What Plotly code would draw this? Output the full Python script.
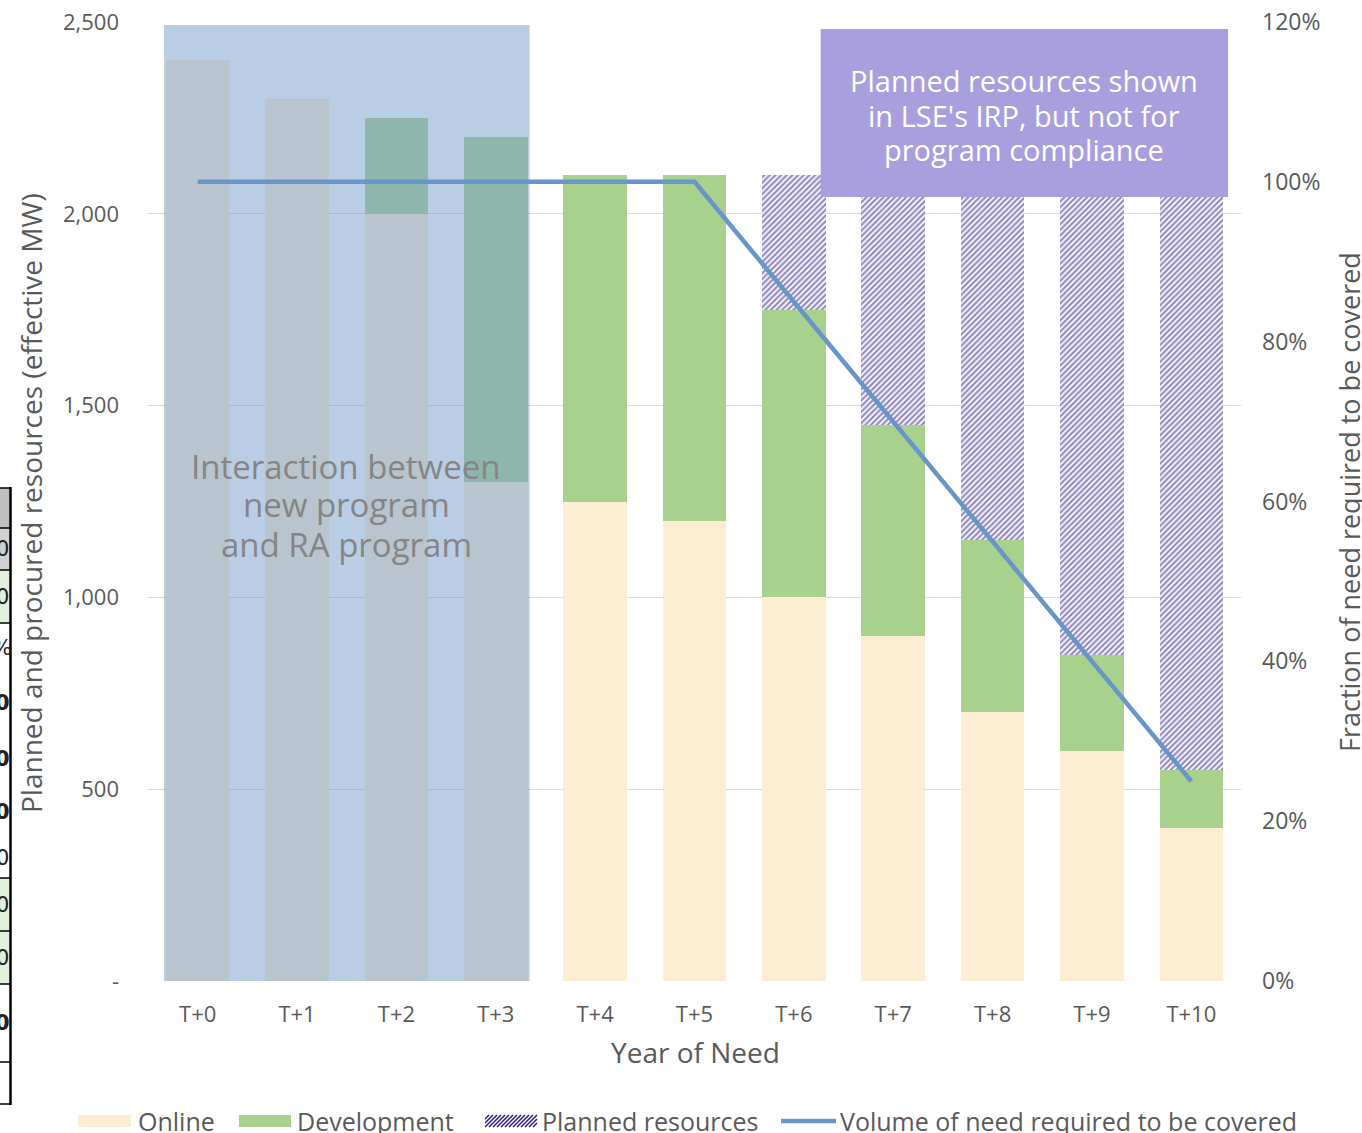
import plotly.graph_objects as go

# ---------------- data ----------------
categories = ["T+0", "T+1", "T+2", "T+3", "T+4", "T+5", "T+6", "T+7", "T+8", "T+9", "T+10"]
online = [2400, 2300, 2000, 1300, 1250, 1200, 1000, 900, 700, 600, 400]
development = [0, 0, 250, 900, 850, 900, 750, 550, 450, 250, 150]
planned = [0, 0, 0, 0, 0, 0, 350, 650, 950, 1250, 1550]
need_fraction = [1.0, 1.0, 1.0, 1.0, 1.0, 1.0, 0.85, 0.70, 0.55, 0.40, 0.25]

y_tickvals = [0, 500, 1000, 1500, 2000, 2500]
y_ticktext = ["-", "500", "1,000", "1,500", "2,000", "2,500"]
y2_tickvals = [0, 0.2, 0.4, 0.6, 0.8, 1.0, 1.2]

# ---------------- style ----------------
FONT = "Open Sans"
TXT = "#595959"
C_ONLINE = "#FDEDD2"
C_DEV = "#A9D18E"
C_HATCH = "#2A1585"
C_LINE = "#6896C8"
C_PURPLE = "#A99FDF"
BAR_W = 0.64

W, H = 1362, 1133
ML, MR, MT, MB = 148, 121, 22, 152
PW, PH = W - ML - MR, H - MT - MB


def px(x):
    return (x - ML) / PW


def py(y):
    return (H - MB - y) / PH


xs = list(range(len(categories)))

fig = go.Figure()
fig.add_trace(go.Bar(x=xs, y=online, name="Online", marker=dict(color=C_ONLINE, line=dict(width=0)),
                     width=BAR_W, showlegend=False))
fig.add_trace(go.Bar(x=xs, y=development, name="Development", marker=dict(color=C_DEV, line=dict(width=0)),
                     width=BAR_W, showlegend=False))
fig.add_trace(go.Bar(x=xs, y=planned, name="Planned resources",
                     marker=dict(color="white", line=dict(width=0),
                                 pattern=dict(shape="/", fgcolor=C_HATCH, bgcolor="white",
                                              size=4, solidity=0.55)),
                     width=BAR_W, showlegend=False))

# translucent highlight over the first four years (drawn as a trace so the line stays on top)
ov_x0 = xs[0] - BAR_W / 2 - 0.02
ov_x1 = xs[3] + BAR_W / 2 + 0.02
ov_top = y_tickvals[-1] * 0.997
fig.add_trace(go.Scatter(x=[ov_x0, ov_x1, ov_x1, ov_x0, ov_x0], y=[0, 0, ov_top, ov_top, 0],
                         fill="toself", fillcolor="rgba(115,155,201,0.5)", mode="none",
                         hoverinfo="skip", showlegend=False))

fig.add_trace(go.Scatter(x=xs, y=need_fraction, yaxis="y2", mode="lines",
                         name="Volume of need required to be covered",
                         line=dict(color=C_LINE, width=4.5), showlegend=False))

fig.update_layout(
    width=W, height=H,
    margin=dict(l=ML, r=MR, t=MT, b=MB, autoexpand=False),
    paper_bgcolor="white", plot_bgcolor="white",
    barmode="stack",
    font=dict(family=FONT, color=TXT, size=22),
    xaxis=dict(range=[-0.5, len(categories) - 0.5], tickvals=xs, ticktext=categories,
               showgrid=False, zeroline=False, showline=False, ticks="", automargin=False,
               ticklabelstandoff=18, tickfont=dict(size=22, color=TXT)),
    yaxis=dict(range=[0, 2500], tickvals=y_tickvals, ticktext=y_ticktext, automargin=False,
               showgrid=True, gridcolor="#D9D9D9", gridwidth=1.2, zeroline=False, showline=False,
               ticks="", ticklabelstandoff=28, tickfont=dict(size=22, color=TXT)),
    yaxis2=dict(range=[0, 1.2], tickvals=y2_tickvals, tickformat=".0%", overlaying="y", side="right",
                showgrid=False, zeroline=False, showline=False, ticks="", automargin=False,
                ticklabelstandoff=20, tickfont=dict(size=23, color=TXT)),
)

shapes = []
annotations = []


def ann(x, y, text, size, color=TXT, xanchor="center", angle=0, family=FONT):
    annotations.append(dict(xref="paper", yref="paper", x=px(x), y=py(y), xanchor=xanchor, yanchor="middle",
                            showarrow=False, text=text, textangle=angle,
                            font=dict(size=size, color=color, family=family)))


# purple callout
shapes.append(dict(type="rect", xref="x", yref="y", x0=6.27, x1=10.37, y0=2044, y1=2482,
                   fillcolor=C_PURPLE, line=dict(width=0), layer="above"))
for i, line in enumerate(["Planned resources shown", "in LSE's IRP, but not for", "program compliance"]):
    ann(1024, 80 + 35 * i, line, 29, color="white")

for i, line in enumerate(["Interaction between", "new program", "and RA program"]):
    ann(346, 466 + 39 * i, line, 33, color="#858585")

# axis titles
ann(31, 503, "Planned and procured resources (effective MW)", 28, angle=-90)
ann(1349, 502, "Fraction of need required to be covered", 27, angle=-90)
ann(695, 1052, "Year of Need", 28)

# custom legend
LY = 1121
leg = [
    ("Online", 78, 131, 136, "online"),
    ("Development", 239, 291, 295, "dev"),
    ("Planned resources", 485, 537, 540, "hatch"),
    ("Volume of need required to be covered", 781, 836, 838, "line"),
]
for label, sx0, sx1, tx, kind in leg:
    if kind == "line":
        shapes.append(dict(type="line", xref="paper", yref="paper", x0=px(sx0), x1=px(sx1),
                           y0=py(LY), y1=py(LY), line=dict(color=C_LINE, width=4.5)))
    elif kind == "hatch":
        for k in range(0, 64, 4):
            a0 = sx0 + k - 12
            a1 = a0 + 12
            c0, c1 = max(a0, sx0), min(a1, sx1)
            if c1 <= c0:
                continue
            y_a = LY + 6 - (c0 - a0)
            y_b = LY + 6 - (c1 - a0)
            shapes.append(dict(type="line", xref="paper", yref="paper", x0=px(c0), x1=px(c1),
                               y0=py(y_a), y1=py(y_b), line=dict(color=C_HATCH, width=1.5)))
    else:
        shapes.append(dict(type="rect", xref="paper", yref="paper", x0=px(sx0), x1=px(sx1),
                           y0=py(LY + 6), y1=py(LY - 6),
                           fillcolor=C_ONLINE if kind == "online" else C_DEV, line=dict(width=0)))
    ann(tx, LY, label, 25, xanchor="left")

# cropped table fragment at the far left edge of the original picture
cells = [(488, 528, "#BFBFBF", ""), (528, 570, "#D0D0D0", "0"), (570, 623, "#E2EFDA", "0"),
         (623, 672, "white", "%"), (672, 733, "white", "<b>0</b>"), (733, 785, "white", "<b>0</b>"),
         (785, 838, "white", "<b>0</b>"), (838, 878, "white", "0"), (878, 931, "#E2EFDA", "0"),
         (931, 984, "#E2EFDA", "0"), (984, 1062, "white", "<b>0</b>"), (1062, 1104, "white", "")]
for top, bot, fill, t in cells:
    shapes.append(dict(type="rect", xref="paper", yref="paper", x0=px(-5), x1=px(11), y0=py(bot), y1=py(top),
                       fillcolor=fill, line=dict(width=0)))
    if t:
        ann(2, (top + bot) / 2, t, 21, color="#222222", family="DejaVu Sans")
for yline in [488, 528, 570, 623, 878, 931, 984, 1062, 1104]:
    shapes.append(dict(type="line", xref="paper", yref="paper", x0=px(-5), x1=px(11), y0=py(yline), y1=py(yline),
                       line=dict(color="black", width=1.5)))
shapes.append(dict(type="line", xref="paper", yref="paper", x0=px(10.5), x1=px(10.5), y0=py(487), y1=py(1105),
                   line=dict(color="black", width=2.5)))

# tiny cropped page-number fragment
ann(1255, 1140, "10", 16, color="#4472C4")

fig.update_layout(shapes=shapes, annotations=annotations)
fig.write_html("out.html")
